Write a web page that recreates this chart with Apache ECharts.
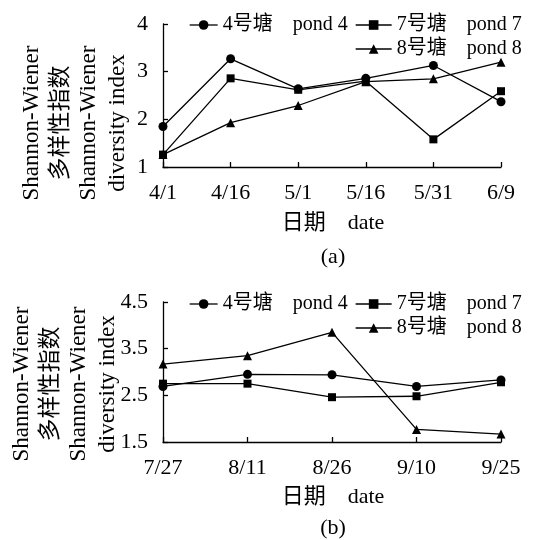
<!DOCTYPE html>
<html><head><meta charset="utf-8">
<script src="https://cdn.jsdelivr.net/npm/echarts@6/dist/echarts.min.js"></script>
<style>html,body{margin:0;padding:0;background:#fff}#c{width:534px;height:540px}</style>
</head><body><div id="c"></div>
<script>
const catsA = ['4/1','4/16','5/1','5/16','5/31','6/9'];
const pond4A = [1.85, 3.27, 2.64, 2.86, 3.13, 2.37];
const pond7A = [1.26, 2.86, 2.62, 2.80, 1.58, 2.59];
const pond8A = [1.26, 1.93, 2.29, 2.79, 2.85, 3.20];
const catsB = ['7/27','8/11','8/26','9/10','9/25'];
const pond4B = [2.69, 2.95, 2.94, 2.69, 2.83];
const pond7B = [2.75, 2.75, 2.46, 2.48, 2.78];
const pond8B = [3.17, 3.35, 3.85, 1.77, 1.67];
const names = ['4号塘\u3000pond 4', '7号塘\u3000pond 7', '8号塘\u3000pond 8'];
const yTicksA = {min: 1, max: 4, interval: 1};
const yTicksB = {min: 1.5, max: 4.5, interval: 1};

const FONT = '"Liberation Serif", "Noto Sans CJK SC", serif';
const chart = echarts.init(document.getElementById('c'), null, {renderer: 'canvas'});
const lineStyle = {color: '#000', width: 1.3};
const symbols = ['circle', 'rect', 'triangle'];
const sizes = [9, 8, 9];
function mk(i, data, idx) {
  return {
    type: 'line', name: names[i], data: data, xAxisIndex: idx, yAxisIndex: idx,
    symbol: symbols[i], symbolSize: sizes[i], showAllSymbol: true,
    lineStyle: lineStyle, itemStyle: {color: '#000'}, color: '#000',
    animation: false, z: 3
  };
}
function xAx(cats, idx) {
  return {
    type: 'category', gridIndex: idx, data: cats, boundaryGap: false,
    axisLine: {lineStyle: {color: '#000', width: 1.3}},
    axisTick: {inside: true, length: 5, lineStyle: {color: '#000', width: 1.3}, alignWithLabel: true},
    axisLabel: {color: '#000', fontSize: 22, fontFamily: FONT, margin: 15},
    splitLine: {show: false}
  };
}
function yAx(t, idx) {
  return {
    type: 'value', gridIndex: idx, min: t.min, max: t.max, interval: t.interval,
    axisLine: {show: true, lineStyle: {color: '#000', width: 1.3}},
    axisTick: {show: true, inside: true, length: 5, lineStyle: {color: '#000', width: 1.3}},
    axisLabel: {color: '#000', fontSize: 22, fontFamily: FONT, margin: 15},
    splitLine: {show: false}
  };
}
const legendText = {color: '#000', fontSize: 20, fontFamily: FONT};
function legend(item, left, top, w) {
  return {data: [item], left: left, top: top, itemWidth: w, itemHeight: 12, itemGap: 0,
    textStyle: legendText, selectedMode: false, padding: 0,
    itemStyle: {color: '#000'}, lineStyle: {color: '#000', width: 1.3}};
}
function txt(x, y, s, size, rot, lh) {
  return {type: 'text', x: x, y: y, rotation: rot || 0,
    style: {text: s, fill: '#000', fontSize: size, fontFamily: FONT,
      align: 'center', verticalAlign: 'middle', lineHeight: lh || size}};
}
const yName = 'Shannon-Wiener\n多样性指数\nShannon-Wiener\ndiversity index';
chart.setOption({
  backgroundColor: '#fff',
  animation: false,
  grid: [
    {left: 163, top: 24, width: 338, height: 143},
    {left: 163, top: 302, width: 338, height: 140}
  ],
  xAxis: [xAx(catsA, 0), xAx(catsB, 1)],
  yAxis: [yAx(yTicksA, 0), yAx(yTicksB, 1)],
  legend: [
    legend(names[0], 189, 15, 28),
    legend(names[1], 355, 15, 36),
    legend(names[2], 355, 39, 36),
    legend(names[0], 189, 294, 28),
    legend(names[1], 355, 294, 36),
    legend(names[2], 355, 318, 36)
  ],
  graphic: [
    txt(75, 123, yName, 23, Math.PI / 2, 28.5),
    txt(65, 384, yName, 23, Math.PI / 2, 28.5),
    txt(333, 223, '日期\u3000date', 22),
    txt(333, 497, '日期\u3000date', 22),
    txt(333, 257, '(a)', 22),
    txt(333, 528, '(b)', 22)
  ],
  series: [
    mk(0, pond4A, 0), mk(1, pond7A, 0), mk(2, pond8A, 0),
    mk(0, pond4B, 1), mk(1, pond7B, 1), mk(2, pond8B, 1)
  ]
});
</script></body></html>
